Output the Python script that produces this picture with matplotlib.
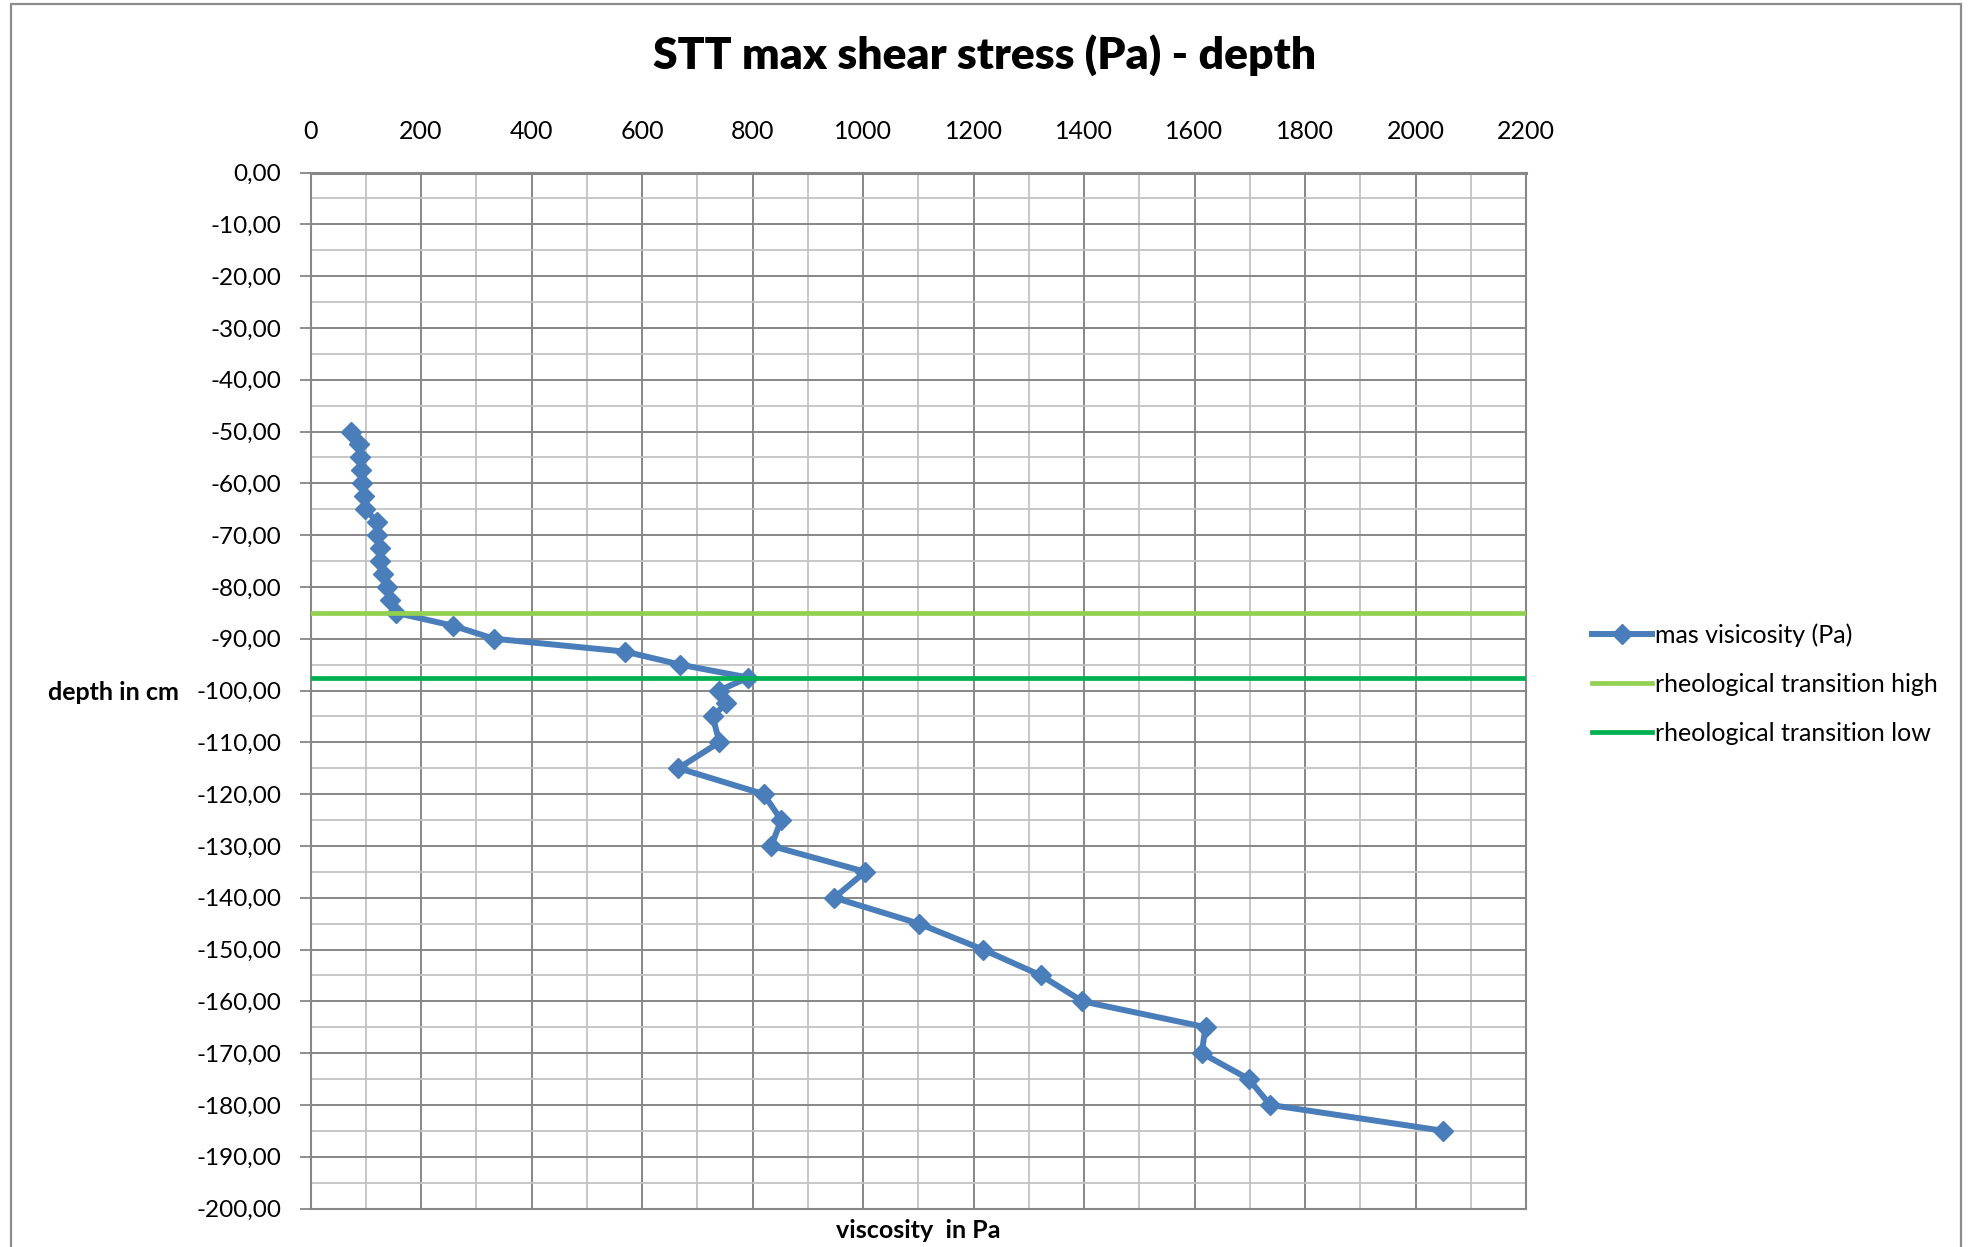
import matplotlib
matplotlib.use("Agg")
import matplotlib.pyplot as plt
from matplotlib.ticker import MultipleLocator, FuncFormatter
from matplotlib.patches import Rectangle

plt.rcParams['font.family'] = ['Lato', 'DejaVu Sans']

# ---- data ----
depth_cm = [-50, -52.5, -55, -57.5, -60, -62.5, -65, -67.5, -70, -72.5, -75,
            -77.5, -80, -82.5, -85, -87.5, -90, -92.5, -95, -97.5, -100,
            -102.5, -105, -110, -115, -120, -125, -130, -135, -140, -145,
            -150, -155, -160, -165, -170, -175, -180, -185]
viscosity_pa = [74, 87, 90, 92, 94, 96, 99, 121, 121, 125, 125,
                132, 139, 143, 155, 258, 332, 570, 669, 792, 740,
                752, 728, 740, 666, 820, 852, 834, 1004, 948, 1101,
                1217, 1322, 1397, 1620, 1613, 1698, 1737, 2050]
transition_x = [0, 2200]
transition_high = [-85, -85]
transition_low = [-97.5, -97.5]

series_labels = ["mas visicosity (Pa)", "rheological transition high",
                 "rheological transition low"]
title = "STT max shear stress (Pa) - depth"
xlabel = "viscosity  in Pa"
ylabel = "depth in cm"

W, H = 1968, 1247
fig = plt.figure(figsize=(W / 100, H / 100), dpi=100)
fig.patch.set_facecolor('white')

# outer chart border
fig.add_artist(Rectangle((11 / W, -0.05), (1961 - 11) / W, 1.05 - 4 / H,
                         transform=fig.transFigure, fill=False,
                         edgecolor='#8c8c8c', linewidth=1.6))

left, right, top, bottom = 310.5, 1526, 172.5, 1208.5
ax = fig.add_axes([left / W, 1 - bottom / H, (right - left) / W, (bottom - top) / H])

blue = '#4A7EBB'
ax.plot(viscosity_pa, depth_cm, color=blue, linewidth=4.3, marker='D',
        markersize=10, markerfacecolor=blue, markeredgecolor=blue,
        label=series_labels[0], zorder=3, solid_joinstyle='round')
ax.plot(transition_x, transition_high, color='#92D050', linewidth=3.4,
        label=series_labels[1], zorder=4)
ax.plot(transition_x, transition_low, color='#00B050', linewidth=3.4,
        label=series_labels[2], zorder=4)

ax.set_xlim(0, 2200)
ax.set_ylim(-200, 0)

ax.xaxis.set_major_locator(MultipleLocator(200))
ax.xaxis.set_minor_locator(MultipleLocator(100))
ax.yaxis.set_major_locator(MultipleLocator(10))
ax.yaxis.set_minor_locator(MultipleLocator(5))
ax.yaxis.set_major_formatter(FuncFormatter(lambda v, p: f"{v:.2f}".replace('.', ',')))
ax.xaxis.set_major_formatter(FuncFormatter(lambda v, p: f"{v:.0f}"))

ax.xaxis.tick_top()
ax.tick_params(axis='x', which='both', length=0, pad=21, labelsize=18, colors='black')
ax.tick_params(axis='y', which='major', length=8, width=1.3, color='#868686',
               pad=13, labelsize=17.5)
ax.tick_params(axis='y', which='minor', length=0)

ax.grid(which='major', color='#878787', linewidth=1.4, zorder=0)
ax.grid(which='minor', color='#C3C3C3', linewidth=1.3, zorder=0)
ax.set_axisbelow(True)
for s in ax.spines.values():
    s.set_color('#878787')
    s.set_linewidth(1.5)
ax.spines['top'].set_linewidth(2.2)

fig.text(985 / W, 1 - 55 / H, title, ha='center', va='center',
         fontsize=32, fontweight='heavy')
fig.text(113 / W, 1 - 692 / H, ylabel, ha='center', va='center',
         fontsize=18, fontweight='bold')
fig.text(918 / W, 1 - 1230 / H, xlabel, ha='center', va='center',
         fontsize=18, fontweight='bold')

leg = fig.legend(loc='upper left', bbox_to_anchor=(1592 / W, 1 - 623 / H),
                 frameon=False, fontsize=18, handlelength=2.4,
                 handletextpad=0.12, labelspacing=1.05, borderaxespad=0,
                 borderpad=0)

fig.savefig('out.png', dpi=100, facecolor='white')
